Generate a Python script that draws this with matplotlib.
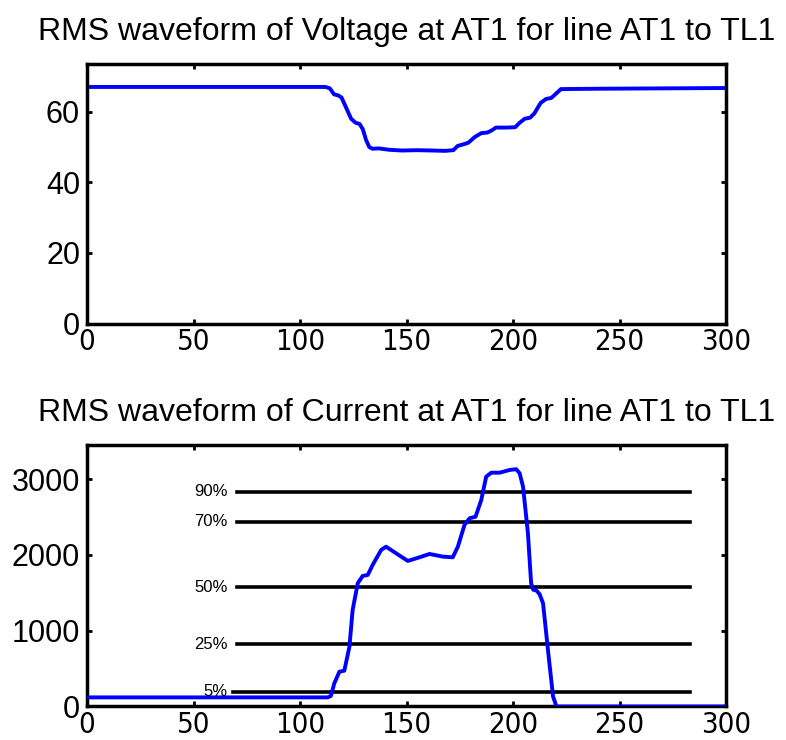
import matplotlib
matplotlib.use("Agg")
import matplotlib.pyplot as plt
from matplotlib import font_manager

# Voltage RMS (time, value)
v_time = [0, 112, 114, 116, 118, 119.5, 121, 124, 126, 128, 129.5, 131, 132.5, 134,
          137, 142, 148, 155, 162, 168, 172, 174, 177, 179, 182, 185, 188, 190,
          192, 197, 201, 203, 205.5, 208, 210, 213, 215.5, 218, 220, 222.5,
          240, 270, 300]
v_rms = [67.0, 67.0, 66.6, 64.9, 64.6, 64.0, 62.0, 58.0, 56.9, 56.5, 55.0, 52.0, 50.0, 49.5,
         49.6, 49.2, 49.0, 49.1, 49.0, 48.9, 49.1, 50.3, 50.8, 51.2, 52.8, 53.9, 54.1, 54.7,
         55.5, 55.5, 55.6, 56.8, 58.0, 58.3, 59.5, 62.5, 63.6, 63.9, 65.0, 66.4,
         66.5, 66.6, 66.7]

# Current RMS (time, value)
i_time = [0, 113, 114.5, 116.1, 118.5, 120.8, 123.2, 124.7, 127.1, 129.4, 131.8, 134.1,
          138.1, 140.4, 145.1, 150.6, 156.1, 160.8, 167, 171.7, 174.1, 177.2, 179.6,
          182.4, 185.1, 187.4, 189.8, 193.7, 198.4, 201.5, 203.1, 204.7, 207, 208.5,
          209.5, 211, 212.5, 214.1, 216.4, 218.8, 220.4, 300]
i_rms = [120, 120, 140, 306, 459, 472, 789, 1273, 1625, 1722, 1735, 1867,
         2065, 2108, 2021, 1920, 1968, 2012, 1977, 1968, 2108, 2394, 2483,
         2504, 2724, 3032, 3084, 3084, 3120, 3130, 3077, 2900, 2285, 1625,
         1540, 1530, 1480, 1361, 745, 130, 0, 0]

# reference levels
level_names = ["90%", "70%", "50%", "25%", "5%"]
level_values = [2834, 2438, 1573, 821, 195]
level_start = [70.3, 70.3, 70.3, 70.3, 68.5]
level_end = 283

x_ticks = [0, 50, 100, 150, 200, 250, 300]

base = "Liberation Sans"
plt.rcParams["font.family"] = [base, "DejaVu Sans"]

# look for a condensed face for the x tick labels
narrow_family, narrow_stretch = base, "normal"
names = {f.name: f for f in font_manager.fontManager.ttflist}
if "Liberation Sans Narrow" in names:
    narrow_family = "Liberation Sans Narrow"
else:
    for f in font_manager.fontManager.ttflist:
        if f.name in ("DejaVu Sans", "Noto Sans", "Open Sans", "Roboto") and \
                ("Condensed" in f.fname or "condensed" in str(f.stretch)):
            narrow_family, narrow_stretch = f.name, "condensed"
            break

fig = plt.figure(figsize=(7.86, 7.40), dpi=100)
ax1 = fig.add_axes([0.1107, 0.5628, 0.813, 0.3507])
ax2 = fig.add_axes([0.1107, 0.0453, 0.813, 0.3534])


def style(ax):
    for s in ax.spines.values():
        s.set_linewidth(2.5)
    ax.tick_params(direction="in", length=3.8, width=2, top=True, right=True,
                   labelsize=22)
    ax.tick_params(axis="x", pad=3, labelsize=21)
    ax.tick_params(axis="y", pad=5)
    ax.set_xlim(0, 300)
    ax.set_xticks(x_ticks)
    for lab in ax.get_xticklabels():
        lab.set_fontfamily(narrow_family)
        lab.set_fontstretch(narrow_stretch)


ax1.plot(v_time, v_rms, color="#0000ff", lw=2.8)
ax1.set_ylim(0, 73.5)
ax1.set_yticks([0, 20, 40, 60])
style(ax1)
ax1.set_title("RMS waveform of Voltage at AT1 for line AT1 to TL1", fontsize=23, pad=17)

ax2.plot(i_time, i_rms, color="#0000ff", lw=2.8, zorder=3)
for name, val, x0 in zip(level_names, level_values, level_start):
    ax2.plot([x0, level_end], [val, val], color="black", lw=2.6, zorder=2)
    ax2.text(66, val, name, fontsize=12, ha="right", va="center")
ax2.set_ylim(0, 3450)
ax2.set_yticks([0, 1000, 2000, 3000])
style(ax2)
ax2.set_title("RMS waveform of Current at AT1 for line AT1 to TL1", fontsize=23, pad=17)

fig.savefig("out.png", dpi=100)
